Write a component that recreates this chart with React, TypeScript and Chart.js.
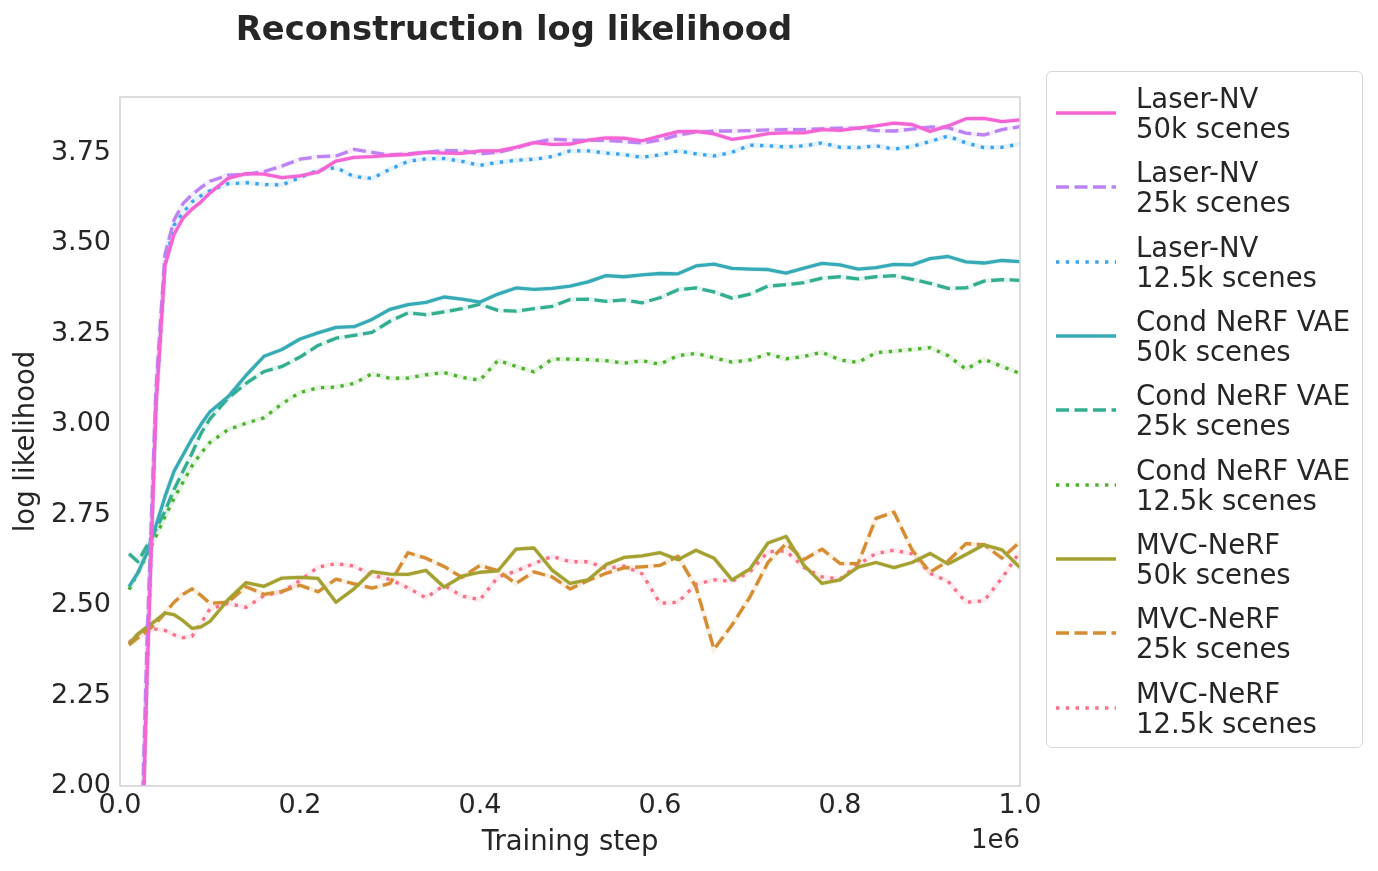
import React, { useEffect, useRef } from 'react'
import { Chart, registerables } from 'chart.js'

Chart.register(...registerables)

// training steps (in units of 1e6)
const steps = [
  0.01, 0.02, 0.03, 0.04, 0.05, 0.06, 0.07, 0.08, 0.09, 0.1,
  0.12, 0.14, 0.16, 0.18, 0.2, 0.22, 0.24, 0.26, 0.28, 0.3,
  0.32, 0.34, 0.36, 0.38, 0.4, 0.42, 0.44, 0.46, 0.48, 0.5,
  0.52, 0.54, 0.56, 0.58, 0.6, 0.62, 0.64, 0.66, 0.68, 0.7,
  0.72, 0.74, 0.76, 0.78, 0.8, 0.82, 0.84, 0.86, 0.88, 0.9,
  0.92, 0.94, 0.96, 0.98, 1.0,
]

const laser50k = [
  0.6, 1.4, 2.3, 3.05, 3.44, 3.525, 3.57, 3.595, 3.615, 3.64,
  3.68, 3.693, 3.692, 3.682, 3.687, 3.697, 3.728, 3.738, 3.74, 3.744,
  3.746, 3.752, 3.75, 3.749, 3.756, 3.756, 3.766, 3.779, 3.774, 3.775,
  3.786, 3.792, 3.791, 3.784, 3.797, 3.809, 3.81, 3.803, 3.788, 3.795,
  3.804, 3.806, 3.806, 3.815, 3.813, 3.819, 3.825, 3.833, 3.829, 3.81,
  3.825, 3.845, 3.846, 3.837, 3.842,
]
const laser25k = [
  0.7, 1.5, 2.4, 3.1, 3.47, 3.565, 3.61, 3.635, 3.655, 3.672,
  3.689, 3.691, 3.699, 3.714, 3.733, 3.74, 3.742, 3.76, 3.752, 3.745,
  3.748, 3.752, 3.757, 3.757, 3.748, 3.752, 3.764, 3.779, 3.788, 3.786,
  3.785, 3.785, 3.782, 3.778, 3.786, 3.8, 3.808, 3.811, 3.811, 3.812,
  3.814, 3.815, 3.815, 3.817, 3.819, 3.819, 3.812, 3.811, 3.816, 3.822,
  3.82, 3.805, 3.8, 3.815, 3.823,
]
const laser12k = [
  0.6, 1.4, 2.3, 3.05, 3.44, 3.55, 3.585, 3.615, 3.632, 3.646,
  3.665, 3.668, 3.663, 3.662, 3.682, 3.703, 3.71, 3.685, 3.68, 3.705,
  3.727, 3.734, 3.735, 3.727, 3.716, 3.724, 3.73, 3.733, 3.74, 3.756,
  3.756, 3.75, 3.746, 3.738, 3.745, 3.756, 3.748, 3.742, 3.752, 3.772,
  3.77, 3.767, 3.77, 3.778, 3.766, 3.765, 3.77, 3.761, 3.768, 3.782,
  3.797, 3.778, 3.765, 3.766, 3.775,
]
const cond50k = [
  2.551, 2.59, 2.645, 2.72, 2.8, 2.87, 2.915, 2.96, 3.0, 3.035,
  3.076, 3.135, 3.188, 3.207, 3.236, 3.253, 3.268, 3.27, 3.29, 3.318,
  3.331, 3.337, 3.352, 3.346, 3.338, 3.36, 3.377, 3.373, 3.376, 3.382,
  3.394, 3.411, 3.408, 3.413, 3.417, 3.416, 3.438, 3.443, 3.431, 3.429,
  3.428, 3.418, 3.432, 3.445, 3.441, 3.429, 3.433, 3.442, 3.441, 3.458,
  3.464, 3.449, 3.446, 3.453, 3.45,
]
const cond25k = [
  2.642, 2.62, 2.665, 2.71, 2.76, 2.82, 2.87, 2.92, 2.975, 3.015,
  3.072, 3.113, 3.146, 3.16, 3.186, 3.218, 3.238, 3.246, 3.254, 3.285,
  3.308, 3.303, 3.311, 3.32, 3.332, 3.315, 3.313, 3.32, 3.326, 3.345,
  3.346, 3.34, 3.344, 3.336, 3.35, 3.372, 3.377, 3.366, 3.349, 3.36,
  3.382, 3.386, 3.392, 3.404, 3.408, 3.402, 3.408, 3.411, 3.401, 3.39,
  3.376, 3.377, 3.396, 3.4, 3.398,
]
const cond12k = [
  2.543, 2.59, 2.64, 2.69, 2.745, 2.795, 2.84, 2.885, 2.92, 2.95,
  2.985, 3.003, 3.018, 3.057, 3.088, 3.101, 3.103, 3.113, 3.14, 3.127,
  3.128, 3.137, 3.143, 3.13, 3.122, 3.177, 3.16, 3.145, 3.18, 3.18,
  3.179, 3.176, 3.169, 3.176, 3.166, 3.19, 3.196, 3.184, 3.172, 3.178,
  3.195, 3.181, 3.188, 3.199, 3.178, 3.171, 3.198, 3.202, 3.207, 3.212,
  3.19, 3.152, 3.18, 3.16, 3.141,
]
const mvc50k = [
  2.393, 2.42, 2.44, 2.458, 2.478, 2.474, 2.457, 2.436, 2.44, 2.455,
  2.515, 2.562, 2.552, 2.575, 2.577, 2.574, 2.508, 2.545, 2.593, 2.586,
  2.585, 2.596, 2.55, 2.58, 2.591, 2.595, 2.655, 2.658, 2.597, 2.56,
  2.57, 2.612, 2.632, 2.636, 2.645, 2.626, 2.652, 2.63, 2.57, 2.6,
  2.672, 2.69, 2.61, 2.56, 2.57, 2.605, 2.618, 2.604, 2.618, 2.643,
  2.614, 2.64, 2.667, 2.653, 2.604,
]
const mvc25k = [
  2.39, 2.41, 2.428, 2.45, 2.478, 2.508, 2.53, 2.545, 2.527, 2.505,
  2.508, 2.551, 2.53, 2.538, 2.555, 2.537, 2.572, 2.559, 2.547, 2.56,
  2.645, 2.63, 2.607, 2.577, 2.61, 2.595, 2.56, 2.592, 2.578, 2.545,
  2.568, 2.588, 2.603, 2.606, 2.61, 2.635, 2.55, 2.378, 2.445, 2.523,
  2.618, 2.67, 2.626, 2.655, 2.615, 2.615, 2.74, 2.757, 2.653, 2.591,
  2.622, 2.67, 2.667, 2.63, 2.675,
]
const mvc12k = [
  2.397, 2.42, 2.432, 2.434, 2.43, 2.418, 2.41, 2.414, 2.45, 2.49,
  2.505, 2.494, 2.526, 2.537, 2.568, 2.605, 2.615, 2.608, 2.583, 2.571,
  2.548, 2.52, 2.555, 2.525, 2.515, 2.578, 2.594, 2.615, 2.635, 2.62,
  2.62, 2.602, 2.608, 2.587, 2.505, 2.508, 2.558, 2.57, 2.566, 2.592,
  2.648, 2.65, 2.604, 2.578, 2.572, 2.612, 2.643, 2.652, 2.642, 2.588,
  2.566, 2.508, 2.512, 2.575, 2.648,
]

const methods = ['Laser-NV', 'Laser-NV', 'Laser-NV', 'Cond NeRF VAE', 'Cond NeRF VAE', 'Cond NeRF VAE', 'MVC-NeRF', 'MVC-NeRF', 'MVC-NeRF']
const sceneCounts = ['50k scenes', '25k scenes', '12.5k scenes', '50k scenes', '25k scenes', '12.5k scenes', '50k scenes', '25k scenes', '12.5k scenes']
const seriesValues = [laser50k, laser25k, laser12k, cond50k, cond25k, cond12k, mvc50k, mvc25k, mvc12k]
const colors = ['#f564d4', '#bb83f4', '#3ba3ec', '#37abb5', '#34ae91', '#50b131', '#a4a031', '#d58c32', '#f77189']
const lineStyles = ['solid', 'dashed', 'dotted', 'solid', 'dashed', 'dotted', 'solid', 'dashed', 'dotted']

const xTicks = [0, 0.2, 0.4, 0.6, 0.8, 1.0]
const yTicks = [2.0, 2.25, 2.5, 2.75, 3.0, 3.25, 3.5, 3.75]

const dashes: Record<string, number[]> = {
  solid: [],
  dashed: [13, 5.5],
  dotted: [3.4, 6.4],
}

const FONT = '"DejaVu Sans", "Liberation Sans", sans-serif'
const INK = '#262626'
const LINE_W = 3.3

const hexAlpha = (hex: string, a: number) => {
  const n = parseInt(hex.slice(1), 16)
  return `rgba(${(n >> 16) & 255}, ${(n >> 8) & 255}, ${n & 255}, ${a})`
}

// frame around the axes plus title / axis labels
const framePlugin = {
  id: 'frame',
  afterDatasetsDraw(chart: any) {
    const { ctx, chartArea: a } = chart
    ctx.save()
    ctx.strokeStyle = '#d4d4d4'
    ctx.lineWidth = 1.6
    ctx.strokeRect(a.left, a.top, a.right - a.left, a.bottom - a.top)
    ctx.restore()
  },
  afterDraw(chart: any) {
    const { ctx, chartArea: a } = chart
    ctx.save()
    ctx.fillStyle = INK
    ctx.textBaseline = 'alphabetic'

    ctx.font = `bold 33.8px ${FONT}`
    ctx.textAlign = 'center'
    ctx.fillText('Reconstruction log likelihood', 514, 40)

    ctx.font = `27.5px ${FONT}`
    ctx.fillText('Training step', (a.left + a.right) / 2, a.bottom + 64)

    ctx.font = `26px ${FONT}`
    ctx.textAlign = 'right'
    ctx.fillText('1e6', a.right, a.bottom + 62)

    ctx.font = `27.5px ${FONT}`
    ctx.translate(34, (a.top + a.bottom) / 2)
    ctx.rotate(-Math.PI / 2)
    ctx.textAlign = 'center'
    ctx.fillText('log likelihood', 0, 0)
    ctx.restore()
  },
}

const LegendSample = ({ color, style }: { color: string; style: string }) => (
  <svg width={62} height={8} style={{ display: 'block' }}>
    <line
      x1={1}
      y1={4}
      x2={61}
      y2={4}
      stroke={color}
      strokeWidth={LINE_W}
      strokeDasharray={dashes[style].length ? dashes[style].join(' ') : undefined}
    />
  </svg>
)

const App = () => {
  const canvasRef = useRef<HTMLCanvasElement | null>(null)

  useEffect(() => {
    document.body.style.margin = '0'
    if (!canvasRef.current) return

    const mainLines = seriesValues.map((values, i) => ({
      label: `${methods[i]} ${sceneCounts[i]}`,
      data: steps.map((x, j) => ({ x, y: values[j] })),
      borderColor: colors[i],
      borderWidth: LINE_W,
      borderDash: dashes[lineStyles[i]],
      borderCapStyle: 'butt' as const,
      borderJoinStyle: 'round' as const,
      pointRadius: 0,
      tension: 0,
      fill: false,
      order: 0,
    }))
    // faint confidence bands under each line
    const bands = seriesValues.map((values, i) => ({
      label: '',
      data: steps.map((x, j) => ({ x, y: values[j] })),
      borderColor: hexAlpha(colors[i], 0.13),
      borderWidth: 5,
      pointRadius: 0,
      tension: 0,
      fill: false,
      order: 1,
    }))

    const chart = new Chart(canvasRef.current, {
      type: 'line',
      data: { datasets: [...mainLines, ...bands] },
      options: {
        animation: false,
        responsive: false,
        maintainAspectRatio: false,
        layout: { padding: { top: 97, right: 358, left: 0, bottom: 0 } },
        plugins: {
          legend: { display: false },
          tooltip: { enabled: false },
          title: { display: false },
        },
        scales: {
          x: {
            type: 'linear',
            min: 0,
            max: 1,
            grid: { display: false, drawTicks: false },
            border: { display: false },
            afterFit: (scale: any) => {
              scale.height = 85
            },
            afterBuildTicks: (scale: any) => {
              scale.ticks = xTicks.map((value) => ({ value }))
            },
            ticks: {
              autoSkip: false,
              maxRotation: 0,
              padding: 4,
              color: INK,
              font: { family: FONT, size: 27 },
              callback: (v: any) => Number(v).toFixed(1),
            },
          },
          y: {
            type: 'linear',
            min: 2.0,
            max: 3.905,
            grid: { display: false, drawTicks: false },
            border: { display: false },
            afterFit: (scale: any) => {
              scale.width = 120
            },
            afterBuildTicks: (scale: any) => {
              scale.ticks = yTicks.map((value) => ({ value }))
            },
            ticks: {
              autoSkip: false,
              padding: 9,
              color: INK,
              font: { family: FONT, size: 27 },
              callback: (v: any) => Number(v).toFixed(2),
            },
          },
        },
      },
      plugins: [framePlugin],
    })

    return () => chart.destroy()
  }, [])

  return (
    <div style={{ position: 'relative', width: 1378, height: 871, background: '#fff' }}>
      <canvas ref={canvasRef} width={1378} height={871} style={{ width: 1378, height: 871, display: 'block' }} />
      <div
        style={{
          position: 'absolute',
          left: 1046,
          top: 71,
          width: 317,
          height: 677,
          border: '1.6px solid #d6d6d6',
          borderRadius: 6,
          background: '#fff',
          boxSizing: 'border-box',
          paddingTop: 4,
          fontFamily: FONT,
          fontSize: 27.5,
          color: INK,
        }}
      >
        {methods.map((m, i) => (
          <div key={i} style={{ display: 'flex', alignItems: 'center', height: 74.3 }}>
            <div style={{ width: 89, paddingLeft: 8, boxSizing: 'border-box' }}>
              <LegendSample color={colors[i]} style={lineStyles[i]} />
            </div>
            <div style={{ lineHeight: '30px', whiteSpace: 'nowrap' }}>
              <div>{m}</div>
              <div>{sceneCounts[i]}</div>
            </div>
          </div>
        ))}
      </div>
    </div>
  )
}

export default App
